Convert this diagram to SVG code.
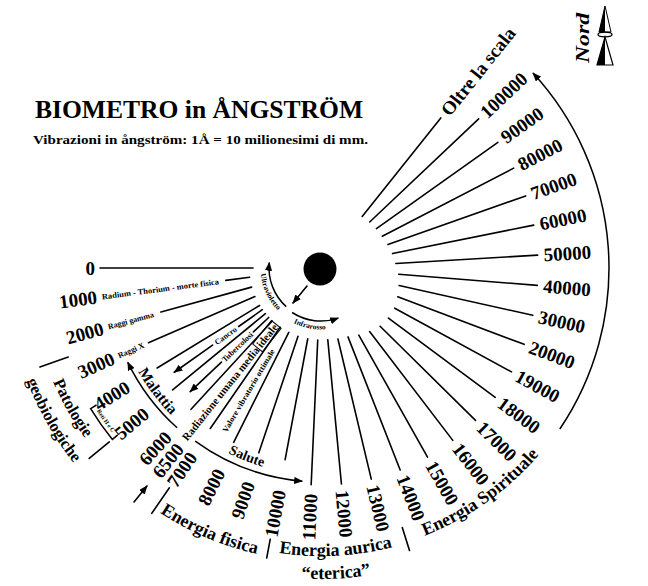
<svg xmlns="http://www.w3.org/2000/svg" width="648" height="586" viewBox="0 0 648 586">
<style>
.ray{stroke:#000;stroke-width:1.6;fill:none;stroke-linecap:round}
.arc{stroke:#000;stroke-width:1.5;fill:none}
text{font-family:"Liberation Serif","Times New Roman",serif;font-weight:bold;fill:#000}
.num{font-size:19px}
.sm{font-size:8px}
.en{font-size:18px}
</style>
<defs>
<marker id="ah" viewBox="0 0 10 8" refX="9" refY="4" markerWidth="9" markerHeight="7.2" markerUnits="userSpaceOnUse" orient="auto"><path d="M0,0 L10,4 L0,8 z" fill="#000"/></marker>
<path id="c60" d="M381.5,268 A60.5,60.5 0 1 0 260.5,268 A60.5,60.5 0 1 0 381.5,268"/>
<path id="c61" d="M382.5,268 A61.5,61.5 0 1 0 259.5,268 A61.5,61.5 0 1 0 382.5,268"/>
<path id="c207" d="M528,268 A207,207 0 1 0 114,268 A207,207 0 1 0 528,268"/>
<path id="c210" d="M531,268 A210,210 0 1 0 111,268 A210,210 0 1 0 531,268"/>
<path id="c266" d="M587,268 A266,266 0 1 0 55,268 A266,266 0 1 0 587,268"/>
<path id="c291" d="M612,268 A291,291 0 1 0 30,268 A291,291 0 1 0 612,268"/>
<path id="c315" d="M636,268 A315,315 0 1 0 6,268 A315,315 0 1 0 636,268"/>
<path id="c293" d="M614,268 A293,293 0 1 0 28,268 A293,293 0 1 0 614,268"/>
<path id="c288" d="M609,268 A288,288 0 1 0 33,268 A288,288 0 1 0 609,268"/>
<path id="c311" d="M632,268 A311,311 0 1 0 10,268 A311,311 0 1 0 632,268"/>
<path id="c287" d="M608,268 A287,287 0 1 0 34,268 A287,287 0 1 0 608,268"/>
</defs>
<rect width="648" height="586" fill="#fff"/>

<g id="title">
<text x="35" y="118" font-size="25" textLength="328" lengthAdjust="spacingAndGlyphs">BIOMETRO in ÅNGSTRÖM</text>
<text x="33" y="143.5" font-size="13.5" textLength="335" lengthAdjust="spacingAndGlyphs">Vibrazioni in ångström: 1Å = 10 milionesimi di mm.</text>
</g>

<g id="nord">
<polygon points="605,6 599,32 611,32" fill="#fff" stroke="#000" stroke-width="1"/>
<polygon points="605,6 599,32 605,32" fill="#000"/>
<ellipse cx="605" cy="34.5" rx="7" ry="2.3" fill="none" stroke="#000" stroke-width="1.3"/>
<polygon points="605,37 597,65 613,65" fill="#fff" stroke="#000" stroke-width="1.2"/>
<polygon points="605,37 597,65 605,65" fill="#000"/>
<text transform="translate(589,63) rotate(-90)" font-size="18" font-style="italic" font-weight="normal" textLength="50" lengthAdjust="spacingAndGlyphs">Nord</text>
</g>

<g id="sun"><circle cx="320" cy="269" r="16.5" fill="#000"/></g>

<g id="connectors">
<line class="ray" x1="307" y1="286" x2="293" y2="303" marker-end="url(#ah)"/>
<path class="arc" d="M286.2,306.6 A52,52 0 0 1 269.3,262.6" marker-end="url(#ah)"/>
<path class="arc" d="M292.1,312.5 A53,53 0 0 0 338.3,318.1" marker-end="url(#ah)"/>
<path class="arc" d="M177.1,427.8 A215,215 0 0 1 127.8,362.3" marker-end="url(#ah)"/>
<path class="arc" d="M195.2,441.1 A214,214 0 0 0 302.3,481.2" marker-end="url(#ah)"/>
<path class="arc" d="M559.8,429 A288,288 0 0 0 533,73.1" marker-end="url(#ah)"/>
<line class="ray" x1="134" y1="502" x2="147" y2="486" marker-end="url(#ah)"/>
<!-- left rays -->
<line class="ray" x1="100" y1="268" x2="253" y2="268"/>
<line class="ray" x1="225" y1="268" x2="249" y2="268" transform="rotate(-7.4 321 268)"/>
<line class="ray" x1="155" y1="268" x2="249" y2="268" transform="rotate(-15.4 321 268)"/>
<line class="ray" x1="133" y1="268" x2="249" y2="268" transform="rotate(-23.4 321 268)"/>
<line class="ray" x1="129" y1="268" x2="249" y2="268" transform="rotate(-31.4 321 268)"/>
<g transform="rotate(-35.4 321 268)">
<line class="ray" x1="220" y1="268" x2="249" y2="268"/>
<line class="ray" x1="188" y1="268" x2="141" y2="268" marker-end="url(#ah)"/>
</g>
<line class="ray" x1="129" y1="268" x2="249" y2="268" transform="rotate(-39.4 321 268)"/>
<g transform="rotate(-43.4 321 268)">
<line class="ray" x1="228" y1="268" x2="249" y2="268"/>
<line class="ray" x1="184" y1="268" x2="141" y2="268" marker-end="url(#ah)"/>
</g>
<line class="ray" x1="129" y1="268" x2="249" y2="268" transform="rotate(-47.4 321 268)"/>
<line class="ray" x1="126" y1="268" x2="249" y2="268" transform="rotate(-55.4 321 268)"/>
<line class="ray" x1="126" y1="268" x2="249" y2="268" transform="rotate(-63.4 321 268)"/>
<line class="ray" x1="126" y1="268" x2="249" y2="268" transform="rotate(-71.4 321 268)"/>
<line class="ray" x1="126" y1="268" x2="249" y2="268" transform="rotate(-79.4 321 268)"/>
<line class="ray" x1="104" y1="268" x2="249" y2="268" transform="rotate(-87.4 321 268)"/>
<!-- right rays -->
<line class="ray" x1="393" y1="268" x2="538" y2="268" transform="rotate(84.6 321 268)"/>
<line class="ray" x1="394" y1="268" x2="538" y2="268" transform="rotate(76.6 321 268)"/>
<line class="ray" x1="395" y1="268" x2="538" y2="268" transform="rotate(68.6 321 268)"/>
<line class="ray" x1="398" y1="268" x2="538" y2="268" transform="rotate(60.6 321 268)"/>
<line class="ray" x1="401" y1="268" x2="538" y2="268" transform="rotate(52.6 321 268)"/>
<line class="ray" x1="404" y1="268" x2="538" y2="268" transform="rotate(44.6 321 268)"/>
<line class="ray" x1="405" y1="268" x2="538" y2="268" transform="rotate(36.6 321 268)"/>
<line class="ray" x1="405" y1="268" x2="538" y2="268" transform="rotate(28.6 321 268)"/>
<line class="ray" x1="403" y1="268" x2="538" y2="268" transform="rotate(20.6 321 268)"/>
<line class="ray" x1="401" y1="268" x2="538" y2="268" transform="rotate(12.6 321 268)"/>
<line class="ray" x1="399" y1="268" x2="538" y2="268" transform="rotate(4.6 321 268)"/>
<line class="ray" x1="396" y1="268" x2="538" y2="268" transform="rotate(-3.4 321 268)"/>
<line class="ray" x1="394" y1="268" x2="538" y2="268" transform="rotate(-11.4 321 268)"/>
<line class="ray" x1="392" y1="268" x2="538" y2="268" transform="rotate(-19.4 321 268)"/>
<line class="ray" x1="390" y1="268" x2="538" y2="268" transform="rotate(-27.4 321 268)"/>
<line class="ray" x1="389" y1="268" x2="538" y2="268" transform="rotate(-35.4 321 268)"/>
<line class="ray" x1="388" y1="268" x2="538" y2="268" transform="rotate(-43.4 321 268)"/>
<line class="ray" x1="387" y1="268" x2="513" y2="268" transform="rotate(-51.4 321 268)"/>
<!-- brackets and ticks -->
<path class="arc" d="M96.5,405 L90.6,408.7 A270,270 0 0 0 112.4,439.4 L117.8,434.9" stroke-width="1.2"/>
<line class="ray" x1="68.2" y1="357" x2="39.9" y2="367"/>
<line class="ray" x1="109.3" y1="441.9" x2="89.2" y2="458.4"/>
<line class="ray" x1="169.4" y1="487.8" x2="151.8" y2="513.3"/>
<line class="ray" x1="270.2" y1="539.3" x2="266.7" y2="558"/>
<line class="ray" x1="402.3" y1="527.5" x2="409.5" y2="550.4"/>
</g>

<g id="left-labels">
<text class="num" x="95" y="274.6" text-anchor="end">0</text>
<g transform="rotate(-7.4 321 268)"><text class="num" x="95" y="274.6" text-anchor="end">1000</text><text class="sm" x="100" y="271" font-size="8.5" textLength="118" lengthAdjust="spacingAndGlyphs">Radium - Thorium - morte fisica</text></g>
<g transform="rotate(-15.4 321 268)"><text class="num" x="95" y="274.6" text-anchor="end">2000</text><text class="sm" x="100" y="270.8">Raggi gamma</text></g>
<g transform="rotate(-23.4 321 268)"><text class="num" x="95" y="274.6" text-anchor="end">3000</text><text class="sm" x="100" y="270.8" font-size="7.5">Raggi X</text></g>
<g transform="rotate(-31.4 321 268)"><text class="num" x="95" y="274.6" text-anchor="end">4000</text></g>
<g transform="rotate(-35.4 321 268)"><text class="sm" x="204" y="270.7" font-size="7.5" text-anchor="middle">Cancro</text></g>
<g transform="rotate(-39.4 321 268)"><text class="num" x="95" y="274.6" text-anchor="end">5000</text></g>
<g transform="rotate(-43.4 321 268)"><text class="sm" x="206" y="270.7" font-size="7.5" text-anchor="middle">Tubercolosi</text></g>
<g transform="rotate(-47.4 321 268)"><text class="num" x="95" y="274.6" text-anchor="end">6000</text></g>
<g transform="rotate(-51.4 321 268)"><text class="num" x="94" y="275" font-size="20" text-anchor="end">6500</text>
<text x="102" y="271.8" font-size="11" textLength="146" lengthAdjust="spacingAndGlyphs">Radiazione umana media ideale</text>
<rect x="219" y="262" width="30" height="12.5" fill="none" stroke="#000" stroke-width="1"/></g>
<g transform="rotate(-55.4 321 268)"><text class="num" x="95" y="274.6" text-anchor="end">7000</text></g>
<g transform="rotate(-59.4 321 268)"><text class="sm" x="131" y="270.8" textLength="95" lengthAdjust="spacingAndGlyphs">Valore vibratorio ottimale</text></g>
<g transform="rotate(-63.4 321 268)"><text class="num" x="95" y="274.6" text-anchor="end">8000</text></g>
<g transform="rotate(-71.4 321 268)"><text class="num" x="95" y="274.6" text-anchor="end">9000</text></g>
<g transform="rotate(-79.4 321 268)"><text class="num" x="95" y="274.6" text-anchor="end">10000</text></g>
<g transform="rotate(-87.4 321 268)"><text class="num" x="95" y="274.6" text-anchor="end">11000</text></g>
</g>

<g id="right-labels">
<text class="num" x="544" y="274.6" transform="rotate(84.6 321 268)">12000</text>
<text class="num" x="544" y="274.6" transform="rotate(76.6 321 268)">13000</text>
<text class="num" x="544" y="274.6" transform="rotate(68.6 321 268)">14000</text>
<text class="num" x="544" y="274.6" transform="rotate(60.6 321 268)">15000</text>
<text class="num" x="544" y="274.6" transform="rotate(52.6 321 268)">16000</text>
<text class="num" x="544" y="274.6" transform="rotate(44.6 321 268)">17000</text>
<text class="num" x="544" y="274.6" transform="rotate(36.6 321 268)">18000</text>
<text class="num" x="544" y="274.6" transform="rotate(28.6 321 268)">19000</text>
<text class="num" x="544" y="274.6" transform="rotate(20.6 321 268)">20000</text>
<text class="num" x="544" y="274.6" transform="rotate(12.6 321 268)">30000</text>
<text class="num" x="544" y="274.6" transform="rotate(4.6 321 268)">40000</text>
<text class="num" x="544" y="274.6" transform="rotate(-3.4 321 268)">50000</text>
<text class="num" x="544" y="274.6" transform="rotate(-11.4 321 268)">60000</text>
<text class="num" x="544" y="274.6" transform="rotate(-19.4 321 268)">70000</text>
<text class="num" x="544" y="274.6" transform="rotate(-27.4 321 268)">80000</text>
<text class="num" x="544" y="274.6" transform="rotate(-35.4 321 268)">90000</text>
<text class="num" x="544" y="274.6" transform="rotate(-43.4 321 268)">100000</text>
<text class="num" x="519" y="274.6" transform="rotate(-51.4 321 268)">Oltre la scala</text>
</g>

<g id="arc-labels">
<text font-size="7.5"><textPath href="#c60" startOffset="56.94%" text-anchor="middle">Ultravioletto</textPath></text>
<text font-size="7.5"><textPath href="#c61" startOffset="71.94%" text-anchor="middle">Infrarosso</textPath></text>
<text font-size="14"><textPath href="#c207" startOffset="69.03%" text-anchor="middle">Salute</textPath></text>
<text font-size="15"><textPath href="#c210" startOffset="60.28%" text-anchor="middle">Malattia</textPath></text>
<text font-size="6"><textPath href="#c266" startOffset="59.83%" text-anchor="middle">Reti H e C</textPath></text>
<text font-size="16.5"><textPath href="#c291" startOffset="58.17%" text-anchor="middle">Patologie</textPath></text>
<text font-size="16.5"><textPath href="#c315" startOffset="58.22%" text-anchor="middle">geobiologiche</textPath></text>
<text class="en"><textPath href="#c293" startOffset="68.61%" text-anchor="middle">Energia fisica</textPath></text>
<text class="en" font-size="17.5"><textPath href="#c288" startOffset="75.83%" text-anchor="middle">Energia aurica</textPath></text>
<text class="en" font-size="17.5"><textPath href="#c311" startOffset="75.78%" text-anchor="middle">“eterica”</textPath></text>
<text class="en"><textPath href="#c287" startOffset="84.81%" text-anchor="middle">Energia Spirituale</textPath></text>
</g>
</svg>
